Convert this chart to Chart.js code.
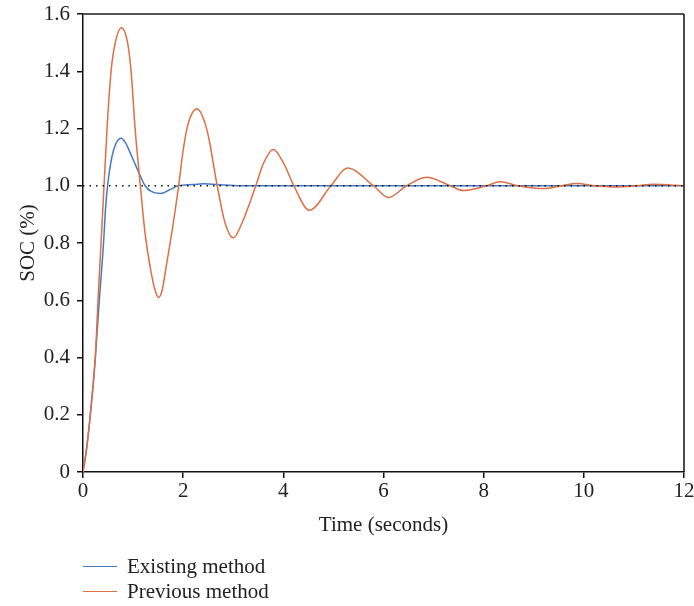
<!DOCTYPE html>
<html>
<head>
<meta charset="utf-8">
<script src="https://cdn.jsdelivr.net/npm/chart.js@4"></script>
<style>
    body { margin: 0; background: #fff; }
    #wrap { position: relative; width: 694px; height: 606px; }
    .legend-row { position: absolute; left: 83px; height: 24px; display: flex; align-items: center;
        font-family: "Liberation Serif", serif; font-size: 21px; color: #222; }
    .legend-row span.line { display: inline-block; width: 34px; height: 0; border-top: 1.5px solid; margin-right: 10px; }
</style>
</head>
<body>
<div id="wrap">
    <canvas id="socChart" width="694" height="606"></canvas>
    <div class="legend-row" style="top:554px"><span class="line" style="border-color:#4479c4"></span>Existing method</div>
    <div class="legend-row" style="top:579px"><span class="line" style="border-color:#dd6f45"></span>Previous method</div>
</div>
<script>
// values
const timeExisting = [0, 0.06, 0.146, 0.246, 0.326, 0.41, 0.45, 0.49, 0.56, 0.64, 0.76, 0.85, 0.93, 1.03, 1.13, 1.24, 1.36, 1.55, 1.72, 1.90, 2.2, 2.4, 2.8, 3.2, 12];
const socExisting = [0, 0.066, 0.2, 0.4, 0.6, 0.8, 0.92, 1.0, 1.085, 1.14, 1.166, 1.15, 1.12, 1.08, 1.04, 1.0, 0.98, 0.973, 0.985, 1.0, 1.004, 1.007, 1.003, 1.0, 1.0];

const timePrevious = [0, 0.06, 0.146, 0.246, 0.30, 0.36, 0.42, 0.48, 0.56, 0.645, 0.765, 0.89, 0.96, 1.04, 1.145, 1.24, 1.34, 1.44, 1.51, 1.58, 1.66, 1.77, 1.91, 2.0, 2.10, 2.28, 2.44, 2.52, 2.68, 2.84, 3.00, 3.17, 3.45, 3.60, 3.80, 4.01, 4.21, 4.52, 4.95, 5.28, 5.80, 6.10, 6.46, 6.86, 7.33, 7.59, 8.06, 8.33, 8.69, 9.19, 9.56, 9.86, 10.22, 10.59, 11.06, 11.39, 12];
const socPrevious = [0, 0.066, 0.2, 0.4, 0.6, 0.8, 1.0, 1.2, 1.4, 1.5, 1.552, 1.5, 1.4, 1.2, 1.0, 0.833, 0.717, 0.635, 0.61, 0.635, 0.717, 0.833, 1.0, 1.124, 1.217, 1.269, 1.217, 1.159, 1.0, 0.868, 0.818, 0.868, 1.0, 1.077, 1.127, 1.077, 1.0, 0.914, 1.0, 1.062, 1.0, 0.959, 1.0, 1.03, 1.0, 0.983, 1.0, 1.014, 1.0, 0.99, 1.0, 1.008, 1.0, 0.996, 1.0, 1.005, 1.0];

const refTime = [0, 12];
const refSoc = [1, 1];

const xTicks = [0, 2, 4, 6, 8, 10, 12];
const yTicks = [0, 0.2, 0.4, 0.6, 0.8, 1.0, 1.2, 1.4, 1.6];

function toPoints(xs, ys) {
    return xs.map((x, i) => ({ x: x, y: ys[i] }));
}

// top and right edges of the frame
const framePlugin = {
    id: 'frame',
    afterDraw(chart) {
        const { ctx, chartArea: a } = chart;
        ctx.save();
        ctx.strokeStyle = '#555';
        ctx.lineWidth = 2;
        ctx.beginPath();
        ctx.moveTo(a.left, a.top);
        ctx.lineTo(a.right, a.top);
        ctx.stroke();
        ctx.strokeStyle = '#111';
        ctx.lineWidth = 1.5;
        ctx.beginPath();
        ctx.moveTo(a.right, a.top);
        ctx.lineTo(a.right, a.bottom);
        ctx.stroke();
        ctx.restore();
    }
};

const serif = { family: '"Liberation Serif", serif', size: 21 };

new Chart(document.getElementById('socChart'), {
    type: 'line',
    data: {
        datasets: [
            {
                label: 'reference',
                data: toPoints(refTime, refSoc),
                borderColor: '#111',
                borderWidth: 1.5,
                borderDash: [1.5, 5],
                pointRadius: 0
            },
            {
                label: 'Previous method',
                data: toPoints(timePrevious, socPrevious),
                borderColor: '#dd6f45',
                borderWidth: 1.5,
                pointRadius: 0,
                cubicInterpolationMode: 'monotone'
            },
            {
                label: 'Existing method',
                data: toPoints(timeExisting, socExisting),
                borderColor: '#4479c4',
                borderWidth: 1.5,
                pointRadius: 0,
                cubicInterpolationMode: 'monotone'
            }
        ]
    },
    options: {
        responsive: false,
        animation: false,
        layout: { padding: { left: 0, top: 14, right: 10, bottom: 64 } },
        plugins: {
            legend: { display: false },
            tooltip: { enabled: false }
        },
        scales: {
            x: {
                type: 'linear',
                min: 0,
                max: 12,
                afterBuildTicks: (scale) => { scale.ticks = xTicks.map(v => ({ value: v })); },
                afterFit: (scale) => {
                    scale.height = 70;
                    scale.paddingLeft = 0;
                    scale.paddingRight = 0;
                },
                ticks: { color: '#222', font: serif, padding: 1, maxRotation: 0 },
                grid: { drawOnChartArea: false, drawTicks: true, tickLength: 6, color: '#111', lineWidth: 1.5 },
                border: { display: true, color: '#111', width: 1.5 },
                title: { display: true, text: 'Time (seconds)', color: '#222', font: serif, padding: { top: 4 } }
            },
            y: {
                min: 0,
                max: 1.6,
                afterBuildTicks: (scale) => { scale.ticks = yTicks.map(v => ({ value: v })); },
                afterFit: (scale) => {
                    scale.width = 83;
                    scale.paddingTop = 0;
                    scale.paddingBottom = 0;
                },
                ticks: {
                    color: '#222',
                    font: serif,
                    padding: 7,
                    callback: (v) => v === 0 ? '0' : v.toFixed(1)
                },
                grid: { drawOnChartArea: false, drawTicks: true, tickLength: 6, color: '#111', lineWidth: 1.5 },
                border: { display: true, color: '#111', width: 1.5 },
                title: { display: true, text: 'SOC (%)', color: '#222', font: serif, padding: { top: 16, bottom: 0 } }
            }
        }
    },
    plugins: [framePlugin]
});
</script>
</body>
</html>
